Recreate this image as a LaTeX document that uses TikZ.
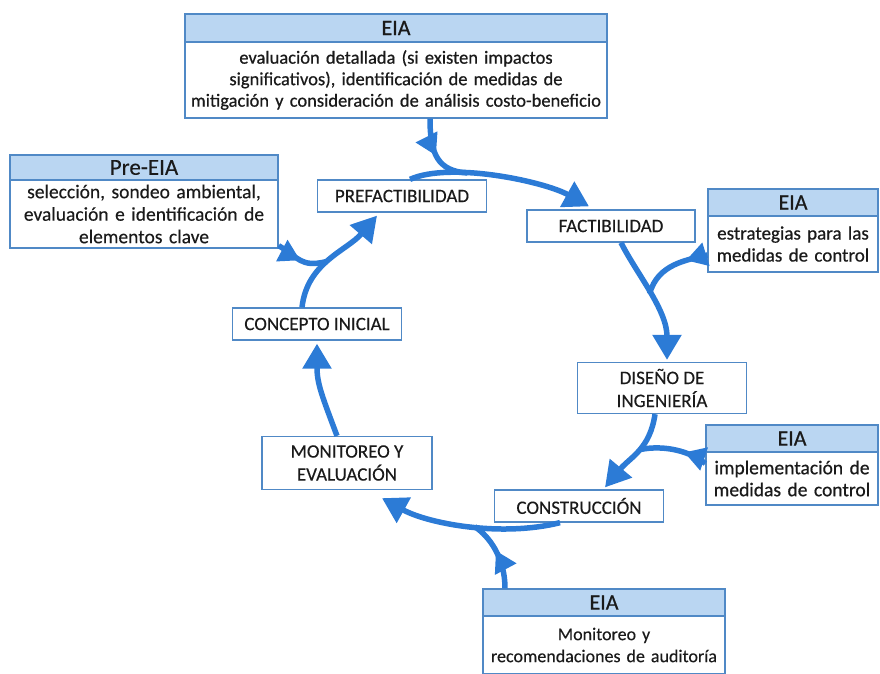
\documentclass[tikz,border=0pt]{standalone}
\usepackage{fontspec}
\setmainfont{Carlito}[BoldFont=Carlito,BoldFeatures={FakeBold=0.6}]
\newfontfamily\medfont{Carlito}[FakeBold=0.3]
\usetikzlibrary{arrows.meta,decorations.markings}
\definecolor{boxblue}{HTML}{5089C6}
\definecolor{hdrblue}{HTML}{BAD6F2}
\definecolor{arrblue}{HTML}{2C7BD6}
\definecolor{txt}{HTML}{1A1A1A}
\begin{document}
\begin{tikzpicture}[x=1pt,y=-1pt,
  stagebox/.style={draw=boxblue,line width=1.3pt,fill=white,text=txt,align=center,inner sep=0pt,font=\medfont\fontsize{19}{23}\selectfont},
  hdr/.style={draw=boxblue,line width=1.3pt,fill=hdrblue,text=txt,inner sep=0pt,font=\bfseries\fontsize{22}{24}\selectfont},
  body/.style={draw=boxblue,line width=1.3pt,fill=white,text=txt,align=center,inner sep=0pt,font=\bfseries\fontsize{18.5}{21.5}\selectfont},
  flow/.style={arrblue,line width=5.5pt,-{Triangle[length=25pt,width=28pt]}},
  feed/.style={arrblue,line width=5.5pt,postaction={decorate},
    decoration={markings,mark=at position #1 with {\arrow{Triangle[length=21pt,width=23pt]}}}},
]
\useasboundingbox (0,0) rectangle (880,673);

% EIA boxes
\node[hdr,minimum width=422pt,minimum height=28pt] (eiaTopH) at (396,28) {EIA};
\node[body,minimum width=422pt,minimum height=76pt,text width=416pt] (eiaTop) at (396,80)
  {evaluación detallada (si existen impactos\\ significativos), identificación de medidas de\\ mitigación y consideración de análisis costo-beneficio};

\node[hdr,minimum width=268pt,minimum height=25pt,font=\medfont\fontsize{23}{24}\selectfont] (preH) at (144,167.5) {Pre-EIA};
\node[body,minimum width=268pt,minimum height=68pt,text width=264pt,font=\medfont\fontsize{19.5}{22.5}\selectfont] (pre) at (144,214)
  {selección, sondeo ambiental,\\ evaluación e identificación de\\ elementos clave};

\node[hdr,minimum width=170pt,minimum height=27pt] (eiaR1H) at (793,202.5) {EIA};
\node[body,minimum width=170pt,minimum height=56pt,text width=168pt,font=\bfseries\fontsize{19}{22}\selectfont] (eiaR1) at (793,244)
  {estrategias para las\\ medidas de control};

\node[hdr,minimum width=172pt,minimum height=27pt] (eiaR2H) at (792,438.5) {EIA};
\node[body,minimum width=172pt,minimum height=53pt,text width=170pt,font=\bfseries\fontsize{19.5}{22}\selectfont] (eiaR2) at (792,478.5)
  {implementación de\\ medidas de control};

\node[hdr,minimum width=242pt,minimum height=27pt] (eiaBH) at (604,602.5) {EIA};
\node[body,minimum width=242pt,minimum height=58pt,text width=238pt,font=\medfont\fontsize{18}{22}\selectfont] (eiaB) at (604,645)
  {Monitoreo y\\ recomendaciones de auditoría};

% stages
\node[stagebox,minimum width=169pt,minimum height=32pt] (pref) at (402,196) {PREFACTIBILIDAD};
\node[stagebox,minimum width=168pt,minimum height=32pt] (fact) at (611,226) {FACTIBILIDAD};
\node[stagebox,minimum width=169pt,minimum height=32pt] (conc) at (317,324) {CONCEPTO INICIAL};
\node[stagebox,minimum width=169pt,minimum height=51pt] (dis) at (662,388) {DISEÑO DE\\ INGENIERÍA};
\node[stagebox,minimum width=170pt,minimum height=53pt] (moni) at (347,463) {MONITOREO Y\\ EVALUACIÓN};
\node[stagebox,minimum width=169pt,minimum height=32pt] (cons) at (579,506) {CONSTRUCCIÓN};

% main cycle
\draw[flow] ([xshift=8pt]pref.north) .. controls +(40,-18) and +(-45,-25) ..
  coordinate[pos=0.35] (m1) ([xshift=-22pt,yshift=3pt]fact.north);
\draw[flow] ([xshift=-15pt]conc.north) .. controls +(5,-45) and +(-30,35) ..
  coordinate[pos=0.45] (m2) ([xshift=-25pt,yshift=-3pt]pref.south);
\draw[flow] ([xshift=10pt]fact.south) .. controls +(15,30) and +(0,-50) ..
  coordinate[pos=0.5] (m3) ([xshift=5pt,yshift=2pt]dis.north);
\draw[flow] ([xshift=-7pt]dis.south) .. controls +(-5,35) and +(25,-30) ..
  coordinate[pos=0.45] (m4) ([xshift=26pt,yshift=2pt]cons.north);
\draw[flow] ([xshift=-19pt]cons.south) .. controls +(-60,15) and +(45,25) ..
  coordinate[pos=0.45] (m5) ([xshift=35pt,yshift=-8pt]moni.south);
\draw[flow] ([xshift=-10pt]moni.north) .. controls +(-15,-40) and +(0,40) ..
  ([yshift=-3pt]conc.south);

% EIA inputs
\draw[feed=0.5] ([xshift=34pt]eiaTop.south) .. controls +(0,35) and +(-30,-2) .. (m1);
\draw[feed=0.5] ([yshift=3pt]pre.south east) .. controls +(20,12) and +(-25,6) .. (m2);
\draw[feed=0.3] ([yshift=-11pt]eiaR1.west) .. controls +(-20,5) and +(8,-30) .. (m3);
\draw[feed=0.35] ([yshift=15pt]eiaR2.west) .. controls +(-15,-12) and +(25,-5) .. (m4);
\draw[feed=0.55] ([xshift=-99pt]eiaBH.north) .. controls +(0,-30) and +(15,10) .. (m5);
\end{tikzpicture}
\end{document}
